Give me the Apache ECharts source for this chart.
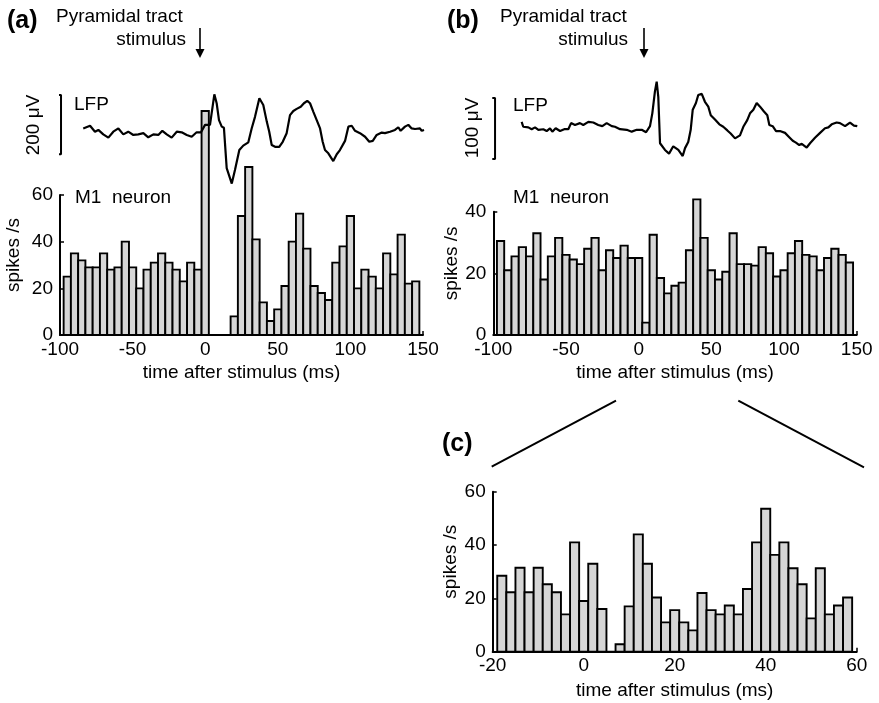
<!DOCTYPE html>
<html>
<head>
<meta charset="utf-8">
<script src="https://cdn.jsdelivr.net/npm/echarts@6/dist/echarts.min.js"></script>
<style>
  html, body { margin: 0; padding: 0; background: #fff; }
  #chart { width: 879px; height: 703px; }
</style>
</head>
<body>
<div id="chart"></div>
<script>
// bin centres (ms) of the 5 ms histograms in (a) and (b)
var binsAB = [-95, -90, -85, -80, -75, -70, -65, -60, -55, -50,
  -45, -40, -35, -30, -25, -20, -15, -10, -5, 0,
  5, 10, 15, 20, 25, 30, 35, 40, 45, 50,
  55, 60, 65, 70, 75, 80, 85, 90, 95, 100,
  105, 110, 115, 120, 125, 130, 135, 140, 145];
// bin centres (ms) of the 2 ms histogram in (c)
var binsC = [-18, -16, -14, -12, -10, -8, -6, -4, -2, 0,
  2, 4, 6, 8, 10, 12, 14, 16, 18, 20,
  22, 24, 26, 28, 30, 32, 34, 36, 38, 40,
  42, 44, 46, 48, 50, 52, 54, 56, 58];

// firing rate, spikes/s
var rateA = [25, 35, 32, 29, 29, 35, 28, 29, 40, 29,
  20, 28, 31, 35, 31, 28, 23, 31, 28, 96,
  0, 0, 0, 8, 51, 72, 41, 14, 6, 11,
  21, 40, 52, 37, 21, 18, 15, 31, 38, 51,
  20, 28, 25, 20, 35, 26, 43, 22, 23];
var rateB = [30.5, 21, 25.5, 28.5, 25.5, 33, 18, 25.5, 31.5, 26,
  24.5, 23, 28, 31.5, 21, 27.5, 25, 29, 25, 25,
  4, 32.5, 18.5, 13.5, 16, 17, 27.5, 44, 31.5, 21,
  18, 20.5, 33, 23, 23, 22.5, 28.5, 26.5, 19, 21,
  26.5, 30.5, 26, 25.5, 21, 25, 28, 26, 23.5];
var rateC = [28.5, 22.3, 31.5, 22.3, 31.5, 25.3, 22.3, 14, 41, 19,
  33, 16, 0, 2.8, 17, 44, 33, 20.3, 11, 15.6,
  11, 8, 22, 15.6, 14, 17.3, 14, 23.5, 41, 53.6,
  36.3, 41, 31.3, 25.3, 12.5, 31.3, 14, 17.3, 20.3];

// LFP traces: time (ms) and voltage (uV)
var lfpTimeA = [-84, -79.3, -75.9, -73.6, -70.2, -66.7, -63.3, -59.8, -56.4, -53,
  -49.5, -46.1, -42.6, -39.2, -35.7, -32.3, -29.5, -26.5, -23.1, -19.6,
  -16.2, -12.7, -9.3, -5.9, -2.9, -0.1, 3.3, 6.3, 7.9, 9.5,
  11.4, 12.9, 14.8, 18.3, 20.5, 23.5, 26.2, 29.7, 32, 34.3,
  37.3, 40, 42.4, 44.1, 45.8, 48.1, 51, 53.4, 56.1, 58.4,
  60.7, 63, 65.8, 68, 70.3, 72.2, 74.5, 76.8, 79.1, 80.9,
  82.5, 84.8, 88.2, 90.6, 92.8, 96.3, 98.6, 100.9, 103.2, 106.6,
  110.1, 113, 115.4, 118.1, 121.6, 123.8, 127.3, 130.7, 133, 134.6,
  137.6, 139.9, 142.2, 144.5, 147.9, 149.1, 150.7];
var lfpA = [12, 21, 1, 7, -8, -19, 1, 12, -8, 1,
  -10, -8, -4, -18, -8, -10, 4, -8, -19, 1,
  -1, -10, -16, -1, -1, 24, 24, 127, 97, 40,
  18, 14, -122, -174, -128, -61, -46, -35, 12, 51,
  114, 91, 35, 1, -44, -50, -50, -33, -4, 57,
  71, 78, 85, 97, 105, 97, 68, 40, 12, -33,
  -61, -72, -98, -75, -61, -30, 18, 21, 4, -4,
  -16, -33, -30, -10, -2, -4, 1, 7, 16, 4,
  18, 24, 12, 10, 12, 4, 7];
var lfpTimeB = [-80.5, -79.4, -75.9, -73.6, -71.3, -69, -65.6, -63.3, -61, -59.4,
  -57.1, -54.1, -51.2, -48.4, -46.5, -43.8, -40.4, -38.1, -34.6, -31.2,
  -27.8, -25, -22, -18.5, -16.3, -12.8, -8.2, -4.8, -1.3, 2.1,
  5.1, 7.8, 9.4, 11.2, 12.4, 13.5, 14.7, 18.1, 20.9, 23.8,
  27.3, 30.3, 31.9, 34.1, 35.8, 37.2, 39.4, 41, 43.4, 45.6,
  47.9, 49.6, 52.5, 55.5, 58.2, 61, 63.3, 66.3, 69.7, 72,
  74.7, 76.6, 78.9, 81.2, 83.5, 86.2, 88.5, 89.9, 92.2, 94.5,
  97.2, 100.7, 103.6, 106, 108.2, 110.5, 112.2, 115.6, 117.9, 121.3,
  124.8, 128.2, 130.5, 132.8, 136.2, 138.5, 142, 145.4, 148.1, 150.4];
var lfpB = [10, 2, 1, -2, 1, -3, -2, -5, -0.5, -6,
  -0.5, -5, -2, -2, 8, 5, 8, 5, 10, 9,
  5, 3, 8, 3, 2, -2, -3, -6, -3, -3,
  -7, 3, 24, 60, 76, 51, -25, -36, -42, -30,
  -36, -46, -33, -23, -3, 30, 41, 54, 56, 43,
  35, 21, 14, 6, 2, -4, -9, -17, -12, 2,
  13, 24, 30, 41, 35, 27, 21, 5, 3, -5,
  -5, -8, -15, -21, -24, -28, -26, -32, -25, -16,
  -8, -0.5, 1, 6, 9, 8, 3, 9, 4, 3];

// scale bars (uV)
var scaleA = 200, scaleBottomA = -75, scaleTimeA = -99.3;
var scaleB = 100, scaleBottomB = -51, scaleTimeB = -98.8;

var FONT = "'Liberation Sans', Arial, Helvetica, sans-serif";
var FS = 19;

function pairs(xs, ys) {
  var out = [];
  for (var i = 0; i < xs.length; i++) out.push([xs[i], ys[i]]);
  return out;
}

function histItem(half) {
  return function (params, api) {
    var t = api.value(0), v = api.value(1);
    var p0 = api.coord([t - half, 0]);
    var p1 = api.coord([t + half, v]);
    return {
      type: 'rect',
      shape: { x: p0[0], y: p1[1], width: p1[0] - p0[0], height: p0[1] - p1[1] },
      style: { fill: '#d6d6d6', stroke: '#000', lineWidth: 1.9 }
    };
  };
}

function scaleBar(t, bottom, size) {
  var tick = -1.9;
  return [[t + tick, bottom + size], [t, bottom + size], [t, bottom], [t + tick, bottom]];
}

function histX(grid, min, max, interval, gap) {
  return {
    type: 'value', gridIndex: grid, min: min, max: max, interval: interval,
    axisLine: { onZero: false, lineStyle: { color: '#000', width: 2 } },
    axisTick: { inside: true, length: 4, lineStyle: { color: '#000', width: 1.5 } },
    axisLabel: { color: '#000', fontFamily: FONT, fontSize: FS, margin: 5 },
    splitLine: { show: false },
    name: 'time after stimulus (ms)', nameLocation: 'middle', nameGap: gap,
    nameTextStyle: { color: '#000', fontFamily: FONT, fontSize: FS }
  };
}
function histY(grid, max, gap) {
  return {
    type: 'value', gridIndex: grid, min: 0, max: max, interval: 20,
    axisLine: { show: true, onZero: false, lineStyle: { color: '#000', width: 2 } },
    axisTick: { show: true, inside: true, length: 4, lineStyle: { color: '#000', width: 1.5 } },
    axisLabel: { color: '#000', fontFamily: FONT, fontSize: FS, margin: 7 },
    splitLine: { show: false },
    name: 'spikes /s', nameLocation: 'middle', nameGap: gap,
    nameTextStyle: { color: '#000', fontFamily: FONT, fontSize: FS, padding: [0, 0, 0, 20] }
  };
}
function hiddenAxis(grid, min, max) {
  return { type: 'value', gridIndex: grid, min: min, max: max, show: false, splitLine: { show: false } };
}

function txt(x, y, s, opts) {
  opts = opts || {};
  return {
    type: 'text', x: x, y: y, rotation: opts.rot || 0, silent: true,
    style: {
      text: s, fill: '#000',
      font: (opts.bold ? 'bold ' : '') + (opts.size || FS) + 'px ' + FONT,
      textAlign: opts.align || 'left', textVerticalAlign: 'middle'
    }
  };
}
function arrow(x, y1, y2) {
  return {
    type: 'group', silent: true,
    children: [
      { type: 'line', shape: { x1: x, y1: y1, x2: x, y2: y2 - 6 }, style: { stroke: '#000', lineWidth: 1.6 } },
      { type: 'polygon', shape: { points: [[x - 4.5, y2 - 9], [x + 4.5, y2 - 9], [x, y2]] }, style: { fill: '#000' } }
    ]
  };
}

var chart = echarts.init(document.getElementById('chart'));
chart.setOption({
  animation: false,
  backgroundColor: '#fff',
  grid: [
    { left: 60, top: 195, width: 363, height: 140 },
    { left: 60, top: 72.7, width: 363, height: 133.4 },
    { left: 493.3, top: 211.7, width: 363.4, height: 123.3 },
    { left: 493.3, top: 67, width: 363.4, height: 122 },
    { left: 492.7, top: 491.7, width: 364, height: 160 }
  ],
  xAxis: [
    histX(0, -100, 150, 50, 28),
    hiddenAxis(1, -100, 150),
    histX(2, -100, 150, 50, 28),
    hiddenAxis(3, -100, 150),
    histX(4, -20, 60, 20, 30)
  ],
  yAxis: [
    histY(0, 60, 37),
    hiddenAxis(1, -250, 200),
    histY(2, 40, 31),
    hiddenAxis(3, -100, 100),
    histY(4, 60, 30)
  ],
  series: [
    { type: 'custom', xAxisIndex: 0, yAxisIndex: 0, clip: false, renderItem: histItem(2.5), data: pairs(binsAB, rateA), z: 2 },
    { type: 'custom', xAxisIndex: 2, yAxisIndex: 2, clip: false, renderItem: histItem(2.5), data: pairs(binsAB, rateB), z: 2 },
    { type: 'custom', xAxisIndex: 4, yAxisIndex: 4, clip: false, renderItem: histItem(1), data: pairs(binsC, rateC), z: 2 },
    { type: 'line', xAxisIndex: 1, yAxisIndex: 1, data: pairs(lfpTimeA, lfpA), showSymbol: false, symbol: 'none',
      clip: false, lineStyle: { color: '#000', width: 2.2 }, z: 5, silent: true },
    { type: 'line', xAxisIndex: 3, yAxisIndex: 3, data: pairs(lfpTimeB, lfpB), showSymbol: false, symbol: 'none',
      clip: false, lineStyle: { color: '#000', width: 2.2 }, z: 5, silent: true },
    { type: 'line', xAxisIndex: 1, yAxisIndex: 1, data: scaleBar(scaleTimeA, scaleBottomA, scaleA), symbol: 'none',
      clip: false, lineStyle: { color: '#000', width: 2 }, silent: true },
    { type: 'line', xAxisIndex: 3, yAxisIndex: 3, data: scaleBar(scaleTimeB, scaleBottomB, scaleB), symbol: 'none',
      clip: false, lineStyle: { color: '#000', width: 2 }, silent: true }
  ],
  graphic: [
    txt(7, 21, '(a)', { bold: true, size: 25 }),
    txt(56, 17, 'Pyramidal tract'),
    txt(186, 40, 'stimulus', { align: 'right' }),
    arrow(200, 28, 58),
    txt(447, 21, '(b)', { bold: true, size: 25 }),
    txt(500, 17, 'Pyramidal tract'),
    txt(628, 40, 'stimulus', { align: 'right' }),
    arrow(644, 28, 58),
    txt(74, 105, 'LFP'),
    txt(513, 106, 'LFP'),
    txt(34, 125, '200 \u03bcV', { align: 'center', rot: Math.PI / 2 }),
    txt(473, 128, '100 \u03bcV', { align: 'center', rot: Math.PI / 2 }),
    txt(75, 198, 'M1  neuron'),
    txt(513, 198, 'M1  neuron'),
    txt(442, 444, '(c)', { bold: true, size: 25 }),
    { type: 'line', silent: true, shape: { x1: 616, y1: 400.7, x2: 491.7, y2: 466.7 }, style: { stroke: '#000', lineWidth: 2 } },
    { type: 'line', silent: true, shape: { x1: 738.3, y1: 400.7, x2: 864, y2: 467.3 }, style: { stroke: '#000', lineWidth: 2 } }
  ]
});
</script>
</body>
</html>
